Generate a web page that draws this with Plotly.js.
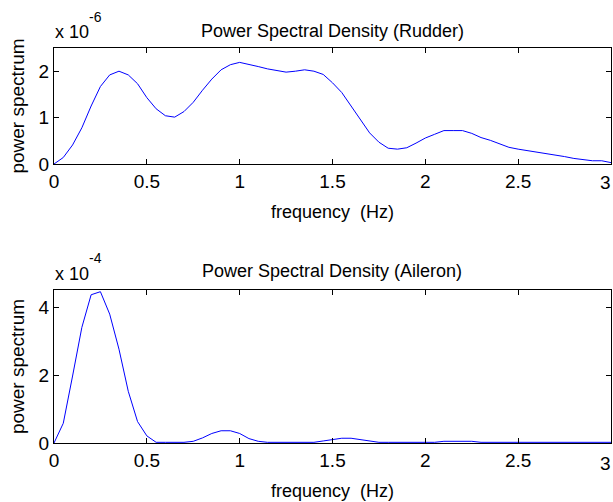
<!DOCTYPE html>
<html>
<head>
<meta charset="utf-8">
<script src="https://cdn.plot.ly/plotly-3.0.1.min.js"></script>
<style>html,body{margin:0;padding:0;background:#fff;}#chart{width:613px;height:502px;}</style>
</head>
<body>
<div id="chart"></div>
<script>
var freq = [0,0.05,0.1,0.15,0.2,0.25,0.3,0.35,0.4,0.45,0.5,0.55,0.6,0.65,0.7,0.75,0.8,0.85,0.9,0.95,
  1.0,1.05,1.1,1.15,1.2,1.25,1.3,1.35,1.4,1.45,1.5,1.55,1.6,1.65,1.7,1.75,1.8,1.85,1.9,1.95,
  2.0,2.05,2.1,2.15,2.2,2.25,2.3,2.35,2.4,2.45,2.5,2.55,2.6,2.65,2.7,2.75,2.8,2.85,2.9,2.95,3.0];
// Rudder PSD, units of 1e-6
var rudder = [0,0.14,0.41,0.78,1.25,1.67,1.92,2.0,1.92,1.73,1.43,1.19,1.04,1.01,1.13,1.33,1.59,1.83,2.03,2.14,
  2.19,2.15,2.10,2.05,2.01,1.98,2.00,2.03,2.00,1.93,1.75,1.54,1.25,0.96,0.67,0.47,0.34,0.32,0.35,0.45,
  0.56,0.64,0.72,0.72,0.72,0.66,0.57,0.51,0.43,0.36,0.32,0.29,0.26,0.23,0.20,0.16,0.12,0.09,0.07,0.07,0.03];
// Aileron PSD, units of 1e-4
var aileron = [0,0.58,1.97,3.4,4.36,4.45,3.79,2.76,1.52,0.63,0.21,0.02,0.02,0.02,0.02,0.05,0.15,0.28,0.36,0.36,
  0.28,0.13,0.05,0.02,0.02,0.02,0.02,0.02,0.02,0.06,0.10,0.14,0.14,0.10,0.05,0.02,0.02,0.02,0.02,0.02,
  0.02,0.02,0.05,0.05,0.05,0.05,0.02,0.02,0.02,0.02,0.02,0.02,0.02,0.02,0.02,0.02,0.02,0.02,0.02,0.02,0.02];
var xTicks = [0,0.5,1,1.5,2,2.5,3];
var xTickText = ['0','0.5','1','1.5','2','2.5','3'];
var rudderTicks = [0,1,2];
var aileronTicks = [0,2,4];
var titles = ['Power Spectral Density (Rudder)','Power Spectral Density (Aileron)'];
var multipliers = ['-6','-4'];
var xTitle = 'frequency  (Hz)';
var yTitle = 'power spectrum';

var FONT = 'Liberation Sans, Arial, Helvetica, sans-serif';
var W = 613, H = 502;
function py(p){ return 1 - p / H; }
function px(p){ return p / W; }

var traces = [
  {x: freq, y: rudder, type: 'scatter', mode: 'lines', line: {color: '#0000ff', width: 1}, xaxis: 'x', yaxis: 'y', hoverinfo: 'none'},
  {x: freq, y: aileron, type: 'scatter', mode: 'lines', line: {color: '#0000ff', width: 1}, xaxis: 'x2', yaxis: 'y2', hoverinfo: 'none'}
];

// last tick label sits on the paper edge; Plotly drops it, so it is drawn as an annotation at the axis value
var lastIdx = xTicks.length - 1;
function xax(anchor){
  return {domain: [px(54), px(611)], anchor: anchor, range: [0, 3],
    tickvals: xTicks, ticktext: xTickText.map(function(t, i){ return i === lastIdx ? ' ' : t; }),
    ticks: 'inside', ticklen: 5, tickcolor: '#000', tickwidth: 1, mirror: 'ticks', showline: true, linecolor: '#000', linewidth: 1,
    showgrid: false, zeroline: false, tickfont: {family: FONT, size: 19, color: '#000'},
    title: {text: xTitle, font: {family: FONT, size: 18, color: '#000'}, standoff: 14}, automargin: false};
}
function yax(anchor, dom, rng, tv){
  return {domain: dom, anchor: anchor, range: rng, tickvals: tv, ticks: 'inside', ticklen: 5, tickcolor: '#000', tickwidth: 1,
    mirror: 'ticks', showline: true, linecolor: '#000', linewidth: 1, showgrid: false, zeroline: false,
    tickfont: {family: FONT, size: 19, color: '#000'},
    title: {text: yTitle, font: {family: FONT, size: 19, color: '#000'}, standoff: 8}, automargin: false};
}

var layout = {
  width: W, height: H, margin: {l: 0, r: 0, t: 0, b: 0}, paper_bgcolor: '#fff', plot_bgcolor: '#fff', showlegend: false,
  xaxis: xax('y'),
  yaxis: yax('x', [py(164), py(48)], [0, 2.5], rudderTicks),
  xaxis2: xax('y2'),
  yaxis2: yax('x2', [py(443), py(290)], [0, 4.5], aileronTicks),
  annotations: [
    {xref: 'paper', yref: 'paper', x: px(332), y: py(31), text: titles[0], showarrow: false, xanchor: 'center', yanchor: 'middle', font: {family: FONT, size: 18, color: '#000'}},
    {xref: 'paper', yref: 'paper', x: px(332), y: py(271), text: titles[1], showarrow: false, xanchor: 'center', yanchor: 'middle', font: {family: FONT, size: 18, color: '#000'}},
    {xref: 'paper', yref: 'paper', x: px(53), y: py(32), text: 'x 10', showarrow: false, xanchor: 'left', yanchor: 'middle', font: {family: FONT, size: 18, color: '#000'}},
    {xref: 'paper', yref: 'paper', x: px(87), y: py(17), text: multipliers[0], showarrow: false, xanchor: 'left', yanchor: 'middle', font: {family: FONT, size: 14, color: '#000'}},
    {xref: 'paper', yref: 'paper', x: px(53), y: py(274), text: 'x 10', showarrow: false, xanchor: 'left', yanchor: 'middle', font: {family: FONT, size: 18, color: '#000'}},
    {xref: 'paper', yref: 'paper', x: px(87), y: py(258), text: multipliers[1], showarrow: false, xanchor: 'left', yanchor: 'middle', font: {family: FONT, size: 14, color: '#000'}},
    {xref: 'x', yref: 'paper', x: xTicks[lastIdx], y: py(182), text: xTickText[lastIdx], showarrow: false, xanchor: 'right', xshift: 2, yanchor: 'middle', font: {family: FONT, size: 19, color: '#000'}},
    {xref: 'x2', yref: 'paper', x: xTicks[lastIdx], y: py(463), text: xTickText[lastIdx], showarrow: false, xanchor: 'right', xshift: 2, yanchor: 'middle', font: {family: FONT, size: 19, color: '#000'}}
  ]
};

Plotly.newPlot('chart', traces, layout, {staticPlot: true, displayModeBar: false});
</script>
</body>
</html>
